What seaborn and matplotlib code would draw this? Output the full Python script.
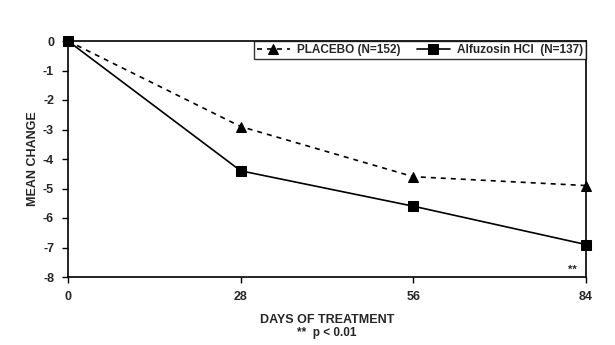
import matplotlib
matplotlib.use("Agg")
import matplotlib.pyplot as plt
import seaborn as sns
import pandas as pd

days = [0, 28, 56, 84]
placebo = [0, -2.9, -4.6, -4.9]
alfuzosin = [0, -4.4, -5.6, -6.9]
series_names = ["PLACEBO (N=152)", "Alfuzosin HCl  (N=137)"]
x_ticks = [0, 28, 56, 84]
y_ticks = [0, -1, -2, -3, -4, -5, -6, -7, -8]

df = pd.DataFrame({
    "day": days * 2,
    "change": placebo + alfuzosin,
    "group": [series_names[0]] * len(days) + [series_names[1]] * len(days),
})

sns.set_style("white")
plt.rcParams['font.family'] = ['Liberation Sans', 'DejaVu Sans']

fig = plt.figure(figsize=(6.15, 3.45), dpi=100)
ax = fig.add_axes([68/615, 1-277/345, (586-68)/615, (277-41)/345])

sns.lineplot(data=df, x="day", y="change", hue="group", style="group",
             palette={series_names[0]: "black", series_names[1]: "black"},
             dashes={series_names[0]: (3, 3), series_names[1]: ""},
             markers={series_names[0]: "^", series_names[1]: "s"},
             markersize=7, linewidth=1.2, markeredgecolor="black",
             ax=ax, clip_on=False, legend=True)

ax.set_xlim(0, 84)
ax.set_ylim(-8, 0)
ax.set_xticks(x_ticks)
ax.set_xticklabels([str(v) for v in x_ticks], fontsize=9, fontweight="bold")
ax.set_yticks(y_ticks)
ax.set_yticklabels([str(v) for v in y_ticks], fontsize=9, fontweight="bold")
ax.tick_params(axis="both", direction="out", length=4, width=1, color="black",
               bottom=True, left=True, pad=6)
for s in ax.spines.values():
    s.set_color("black")
    s.set_linewidth(1.2)

ax.set_xlabel("DAYS OF TREATMENT", fontsize=9, fontweight="bold", labelpad=8)
ax.set_ylabel("MEAN CHANGE", fontsize=9, fontweight="bold", labelpad=3)
fig.text(327/615, 1-333/345, "**  p < 0.01", ha="center", va="center",
         fontsize=8.5, fontweight="bold")
ax.text(82.5, -7.75, "**", ha="right", va="center", fontsize=8, fontweight="bold")

leg = ax.legend(loc="upper right", ncol=2, frameon=True, fancybox=False,
                edgecolor="black", fontsize=8.5, borderpad=0.25, handlelength=2.8,
                columnspacing=1.4, borderaxespad=0, handletextpad=0.6)
leg.get_frame().set_linewidth(1.0)
for i, t in enumerate(leg.get_texts()):
    t.set_fontweight("bold")

fig.savefig("out.png", dpi=100)
